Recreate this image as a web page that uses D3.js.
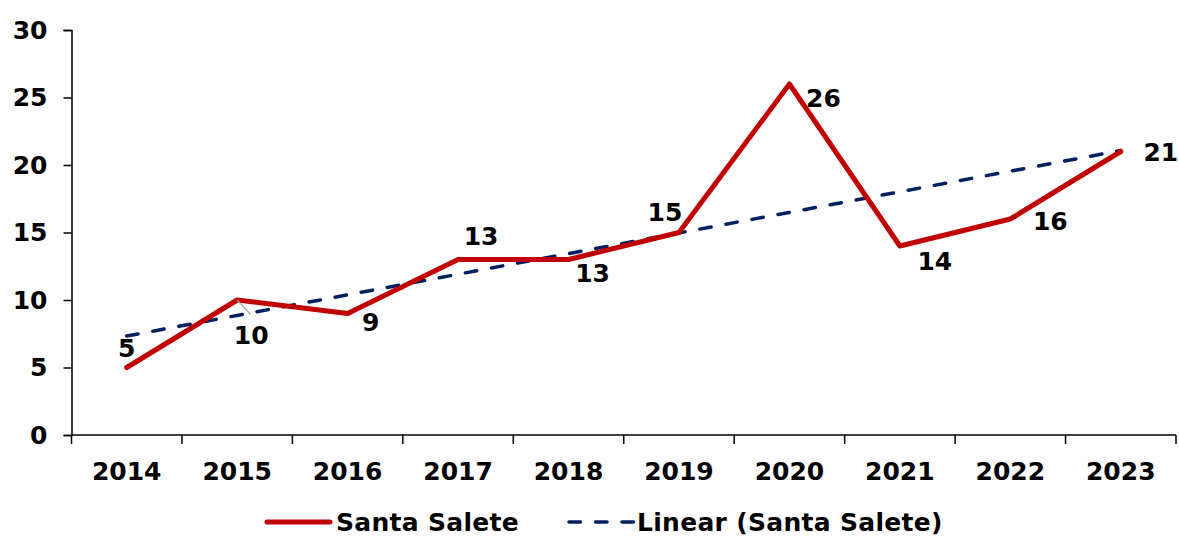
<!DOCTYPE html>
<html>
<head>
<meta charset="utf-8">
<script src="https://cdn.jsdelivr.net/npm/d3@7"></script>
<style>
  body { margin: 0; background: #fff; }
  svg text { font-family: "DejaVu Sans", Verdana, sans-serif; font-weight: bold; }
</style>
</head>
<body>
<div id="chart"></div>
<script>
// data
const years = ["2014", "2015", "2016", "2017", "2018", "2019", "2020", "2021", "2022", "2023"];
const values = [5, 10, 9, 13, 13, 15, 26, 14, 16, 21];
const trendEnds = [7.33, 21.07]; // linear trend at first and last year
const yTicks = [0, 5, 10, 15, 20, 25, 30];

// label offsets from each point (placement only)
const labelOffsets = [[0, -19], [14, 35], [23, 9], [23, -23], [24, 14], [-14, -20], [34, 14], [35, 15], [40, 2], [40, 1]];

const width = 1179;
const height = 536;
const margin = { top: 30, right: 3, bottom: 101, left: 71.5 };
const fontSize = "25px";

const svg = d3.select("#chart").append("svg")
  .attr("width", width)
  .attr("height", height);

const x = d3.scaleBand()
  .domain(years)
  .range([margin.left, width - margin.right]);

const y = d3.scaleLinear()
  .domain([0, 30])
  .range([height - margin.bottom, margin.top]);

const cx = d => x(d) + x.bandwidth() / 2;

// y axis
const yAxis = svg.append("g")
  .attr("transform", `translate(${margin.left},0)`)
  .call(d3.axisLeft(y).tickValues(yTicks).tickSize(8).tickPadding(16));
yAxis.selectAll("line, path").attr("stroke", "#000").attr("stroke-width", 1.5);
yAxis.selectAll("text").style("font-size", fontSize).attr("fill", "#000");

// x axis, ticks on band boundaries
const xAxis = svg.append("g")
  .attr("transform", `translate(0,${y(0)})`);
xAxis.append("line")
  .attr("x1", margin.left).attr("x2", width - margin.right)
  .attr("stroke", "#000").attr("stroke-width", 1.5);
xAxis.selectAll(".tk")
  .data(years.concat(["end"]))
  .enter().append("line")
  .attr("x1", (d, i) => i < years.length ? x(d) : x(years[years.length - 1]) + x.bandwidth())
  .attr("x2", (d, i) => i < years.length ? x(d) : x(years[years.length - 1]) + x.bandwidth())
  .attr("y1", 0).attr("y2", 9)
  .attr("stroke", "#000").attr("stroke-width", 1.5);
xAxis.selectAll(".lbl")
  .data(years)
  .enter().append("text")
  .attr("x", d => cx(d))
  .attr("y", 45)
  .attr("text-anchor", "middle")
  .style("font-size", fontSize)
  .text(d => d);

// trend line
svg.append("line")
  .attr("x1", cx(years[0])).attr("y1", y(trendEnds[0]))
  .attr("x2", cx(years[years.length - 1])).attr("y2", y(trendEnds[1]))
  .attr("stroke", "#002060")
  .attr("stroke-width", 3.5)
  .attr("stroke-linecap", "round")
  .attr("stroke-dasharray", "11.5,15");

// main series
const line = d3.line()
  .x((d, i) => cx(years[i]))
  .y(d => y(d));

svg.append("path")
  .datum(values)
  .attr("d", line)
  .attr("fill", "none")
  .attr("stroke", "#C00000")
  .attr("stroke-width", 5)
  .attr("stroke-linejoin", "round")
  .attr("stroke-linecap", "round");

// leader line for the 2015 label
svg.append("line")
  .attr("x1", cx(years[1])).attr("y1", y(values[1]))
  .attr("x2", cx(years[1]) + 13).attr("y2", y(values[1]) + 14)
  .attr("stroke", "#A6A6A6").attr("stroke-width", 1.2);

// data labels
svg.selectAll(".dl")
  .data(values)
  .enter().append("text")
  .attr("x", (d, i) => cx(years[i]) + labelOffsets[i][0])
  .attr("y", (d, i) => y(d) + labelOffsets[i][1])
  .attr("text-anchor", "middle")
  .attr("dominant-baseline", "central")
  .style("font-size", fontSize)
  .text(d => d);

// legend
const legend = svg.append("g").attr("transform", "translate(0,522)");
legend.append("line")
  .attr("x1", 267).attr("x2", 330)
  .attr("stroke", "#C00000").attr("stroke-width", 5).attr("stroke-linecap", "round");
legend.append("text")
  .attr("x", 336).attr("y", 0)
  .attr("dominant-baseline", "central")
  .style("font-size", fontSize)
  .style("letter-spacing", "0.3px")
  .text("Santa Salete");
legend.append("line")
  .attr("x1", 569).attr("x2", 634)
  .attr("stroke", "#002060").attr("stroke-width", 3.5)
  .attr("stroke-linecap", "round").attr("stroke-dasharray", "11.5,15");
legend.append("text")
  .attr("x", 637).attr("y", 0)
  .attr("dominant-baseline", "central")
  .style("font-size", fontSize)
  .style("letter-spacing", "0.3px")
  .text("Linear (Santa Salete)");
</script>
</body>
</html>
